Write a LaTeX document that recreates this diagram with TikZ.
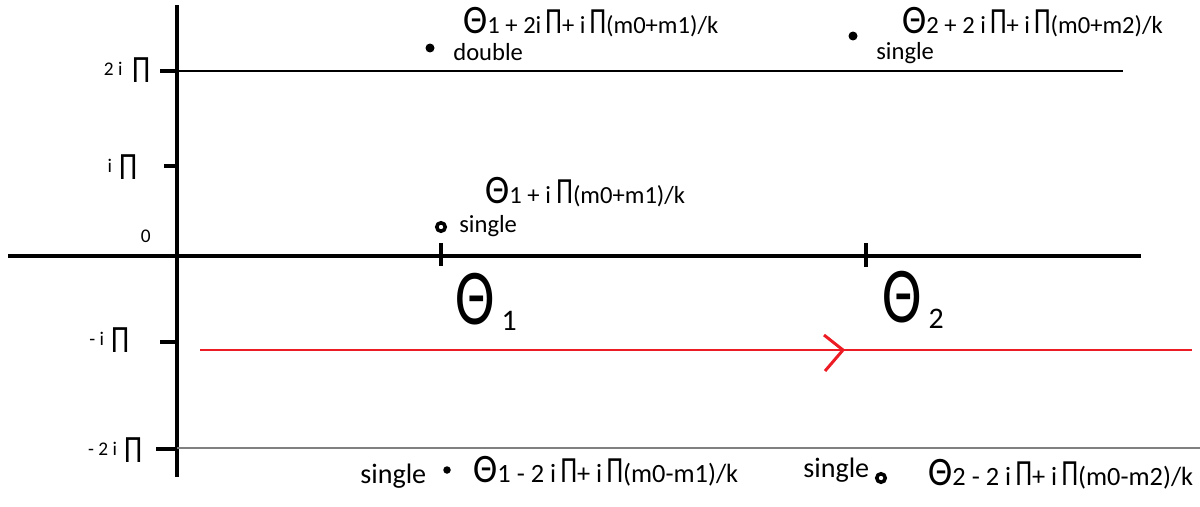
\documentclass[tikz,border=0pt]{standalone}
\usepackage{fontspec}
\setmainfont{Carlito}
\usetikzlibrary{positioning}

\definecolor{pathred}{RGB}{237,28,36}
\newcommand{\thsm}{{\fontsize{23}{23}\selectfont\scalebox{0.9}[1]{Θ}}}
\newcommand{\pism}{\scalebox{0.72}[1]{\fontsize{21}{21}\selectfont Π}}
\newcommand{\piax}{\raisebox{-0.15cm}{\scalebox{0.75}[1]{\fontsize{22}{22}\selectfont Π}}}
\newcommand{\thbig}[1]{\scalebox{0.75}[1]{Θ}\hspace{0.14cm}\raisebox{-0.13cm}{\fontsize{17}{17}\selectfont #1}}

\begin{document}
\begin{tikzpicture}[
  x=0.02cm, y=-0.02cm,
  axis/.style={draw=black, line width=2.4pt},
  tck/.style={draw=black, line width=2.4pt},
  xtck/.style={draw=black, line width=1.8pt},
  level/.style={draw=black, line width=1.2pt},
  contour/.style={draw=pathred, line width=1.7pt},
  pole/.style={circle, fill=black, inner sep=0pt, minimum size=0.18cm},
  ring/.style={circle, draw=black, fill=white, line width=2pt, inner sep=0pt, minimum size=0.17cm},
  ylab/.style={anchor=base east, inner sep=0pt, font=\fontsize{11}{11}\selectfont},
  flab/.style={anchor=base west, inner sep=0pt, font=\fontsize{14}{14}\selectfont},
  note/.style={anchor=base west, inner sep=0pt, font=\fontsize{14}{14}\selectfont},
  tlab/.style={anchor=base west, inner sep=0pt, font=\fontsize{45}{45}\selectfont}
]
  \useasboundingbox (0,0) rectangle (1200,507);

  % Ejes
  \coordinate (xl) at (8,256);
  \coordinate (xr) at (1141,256);
  \coordinate (yt) at (177,5);
  \coordinate (yb) at (177,477);
  \draw[axis] (xl) -- (xr);
  \draw[axis] (yt) -- (yb);

  % Marcas del eje imaginario
  \foreach \y/\x in {71/160, 166/164, 342/160, 449/156}
    \draw[tck] (\x,\y) -- (177,\y);

  % Marcas del eje real
  \coordinate (th1) at (441,256);
  \coordinate (th2) at (866,256);
  \draw[xtck] (441,243) -- (441,266);
  \draw[xtck] (866,243) -- (866,267);

  % Rectas Im = 2 i Pi y Im = -2 i Pi
  \draw[level] (177,71) -- (1123,71);
  \draw[gray, line width=0.6pt] (177,448) -- (1200,448);

  % Contorno
  \coordinate (c0) at (200,350);
  \coordinate (c1) at (1192,350);
  \coordinate (cha) at (824,335);
  \coordinate (chm) at (843,350);
  \coordinate (chb) at (825,371);
  \draw[contour] (c0) -- (c1);
  \draw[contour] (cha) -- (chm) -- (chb);

  % Etiquetas del eje
  \node[ylab] (l2) at (151,75) {2 i\hspace{0.2cm}\piax};
  \node[ylab] (l1) at (138,172) {i\hspace{0.15cm}\piax};
  \node[ylab] (l0) at (151,242) {0};
  \node[ylab] (lm1) at (130,345) {- i\hspace{0.15cm}\piax};
  \node[ylab] (lm2) at (143,455) {- 2 i\hspace{0.15cm}\piax};

  % Theta 1 y Theta 2
  \node[tlab] (T1) at (455,324) {\thbig{1}};
  \node[tlab] (T2) at (882,322) {\thbig{2}};

  % Polos
  \node[pole] (p1) at (430,48) {};
  \node[pole] (p2) at (853,36) {};
  \node[ring] (p3) at (441,227) {};
  \node[pole, minimum size=0.15cm] (p4) at (447,470) {};
  \node[ring] (p5) at (881,478) {};

  \node[note] (n1) at (453,60) {double};
  \node[note] (n2) at (876,59) {single};
  \node[note] (n3) at (459,232) {single};
  \node[note, font=\fontsize{16}{16}\selectfont] (n4) at (360,483) {single};
  \node[note, font=\fontsize{16}{16}\selectfont] (n5) at (803,477) {single};

  % Posiciones de los polos
  \node[flab] (f1) at (463,33) {\thsm1 + 2i\,\pism+ i\,\pism(m0+m1)/k};
  \node[flab] (f2) at (902,33) {\thsm2 + 2 i\,\pism+ i\,\pism(m0+m2)/k};
  \node[flab] (f3) at (485,203) {\thsm1 + i \pism(m0+m1)/k};
  \node[flab, font=\fontsize{15}{15}\selectfont] (f4) at (473,482) {\thsm1 - 2 i\,\pism+ i\,\pism(m0-m1)/k};
  \node[flab, font=\fontsize{15}{15}\selectfont] (f5) at (928,485) {\thsm2 - 2 i\,\pism+ i\,\pism(m0-m2)/k};
\end{tikzpicture}
\end{document}
